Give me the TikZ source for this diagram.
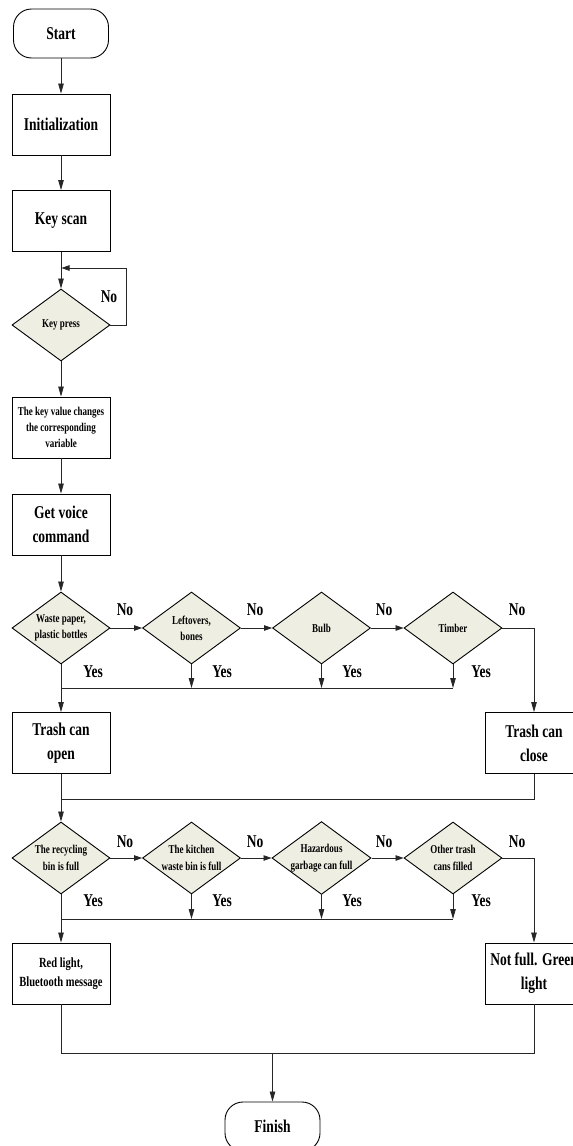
\documentclass[tikz,border=0pt]{standalone}
\usepackage{fontspec}
\setmainfont{Liberation Serif}[FakeStretch=0.75]
\usepackage{xcolor}
\usepackage{tikz}
\usetikzlibrary{shapes.geometric, arrows.meta}
\definecolor{decfill}{RGB}{238,238,226}
\begin{document}
\begin{tikzpicture}[
  x=1pt, y=-1pt,
  big/.style={font=\fontsize{18}{24}\selectfont\bfseries},
  small/.style={font=\fontsize{12}{16.3}\selectfont\bfseries},
  mid/.style={font=\fontsize{14}{19}\selectfont\bfseries},
  term/.style={draw, rounded corners=18pt, minimum width=95pt, minimum height=49pt, line width=0.9pt, big},
  proc/.style={draw, minimum width=98pt, minimum height=61pt, inner sep=1pt, align=center, line width=0.9pt, big},
  dec/.style={draw, diamond, aspect=1.36, inner sep=0pt, minimum width=98pt, minimum height=72pt,
              fill=decfill, align=center, line width=0.9pt, small},
  lbl/.style={big, inner sep=0pt},
  ark/.style={-{Triangle[length=10pt, width=5.5pt]}, line width=0.8pt, black!85},
  arh/.style={-{Triangle[length=8pt, width=5.5pt]}, line width=0.8pt, black!85},
  ln/.style={line width=0.8pt, black!85}
]
\useasboundingbox (0,0) rectangle (573,1146);
\node[term] (start) at (61,33.5) {Start};
\node[proc] (init) at (61,124.5) {Initialization};
\node[proc] (scan) at (61,221) {Key scan};
\node[dec] (press) at (61,325) {Key press};
\node[proc, small] (keyval) at (61,427.5) {The key value changes\\the corresponding\\variable};
\node[proc] (voice) at (61,524.5) {Get voice\\command};
\node[dec] (d1) at (61,628)    {Waste paper,\\plastic bottles};
\node[dec] (d2) at (191.5,628) {Leftovers,\\bones};
\node[dec] (d3) at (321.5,628) {Bulb};
\node[dec] (d4) at (453,628)   {Timber};
\node[proc] (topen) at (61,743)   {Trash can\\open};
\node[proc] (tclose) at (534,743) {Trash can\\close};
\node[dec] (r1) at (61,858)    {The recycling\\bin is full};
\node[dec] (r2) at (191.5,858) {The kitchen\\waste bin is full};
\node[dec] (r3) at (321.5,858) {Hazardous\\garbage can full};
\node[dec] (r4) at (453,858)   {Other trash\\cans filled};
\node[proc, mid] (red) at (61,973.5) {Red light,\\Bluetooth message};
\node[proc] (green) at (534,973.5) {Not full. Green\\light};
\node[term] (finish) at (272.5,1126.5) {Finish};
\coordinate (loop) at (61.5,268);
\coordinate (m1) at (61,688);
\coordinate (j1) at (61,799);
\coordinate (m2) at (61,919);
\coordinate (j2) at (272.5,1053);
\node[lbl] at (109,297) {No};
\foreach \x/\n in {125/1, 255/2, 384/3, 517/4} {
  \node[lbl] (no\n) at (\x,610) {No};
  \node[lbl] (nob\n) at (\x,842) {No};
}
\foreach \x/\n in {93/1, 222/2, 352/3, 481/4} {
  \node[lbl] (yes\n) at (\x,672) {Yes};
  \node[lbl] (yesb\n) at (\x,901) {Yes};
}
\draw[ark] (start) -- (init);
\draw[ark] (init) -- (scan);
\draw[ark] (scan) -- (press);
\draw[arh] (press.east) -- ++(16,0) |- (loop);
\draw[ark] (press) -- (keyval);
\draw[ark] (keyval) -- (voice);
\draw[ark] (voice) -- (d1);
\draw[arh] (d1) -- (d2);
\draw[arh] (d2) -- (d3);
\draw[arh] (d3) -- (d4);
\draw[ark] (d4.east) -| (tclose.north);
\draw[ark] (d1) -- (topen);
\draw[ark] (d2.south) -- (d2.south |- m1);
\draw[ark] (d3.south) -- (d3.south |- m1);
\draw[ark] (d4.south) -- (d4.south |- m1);
\draw[ln] (m1) -- (d4.south |- m1);
\draw[ark] (topen) -- (r1);
\draw[ln] (tclose.south) |- (j1);
\draw[arh] (r1) -- (r2);
\draw[arh] (r2) -- (r3);
\draw[arh] (r3) -- (r4);
\draw[ark] (r4.east) -| (green.north);
\draw[ark] (r1) -- (red);
\draw[ark] (r2.south) -- (r2.south |- m2);
\draw[ark] (r3.south) -- (r3.south |- m2);
\draw[ark] (r4.south) -- (r4.south |- m2);
\draw[ln] (m2) -- (r4.south |- m2);
\draw[ln] (red.south) |- (j2) -| (green.south);
\draw[ark] (j2) -- (finish);
\end{tikzpicture}
\end{document}
